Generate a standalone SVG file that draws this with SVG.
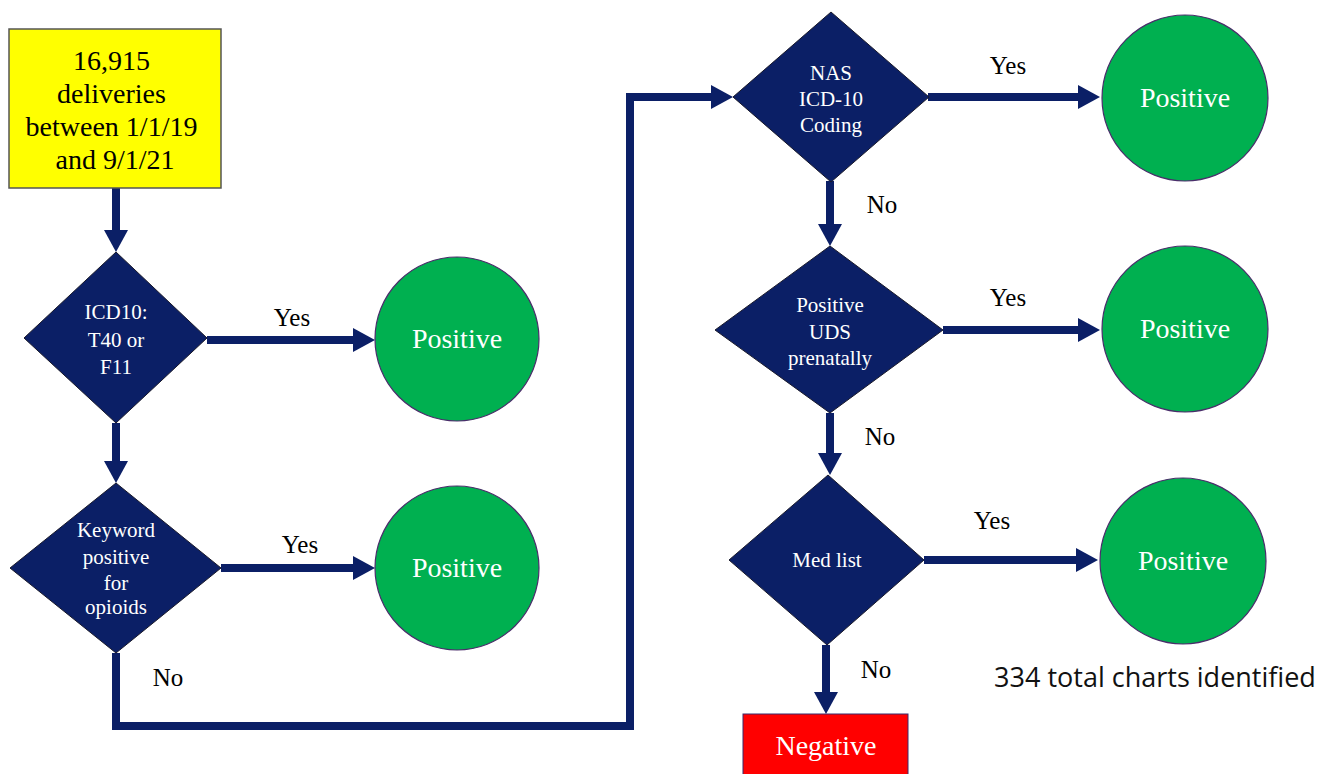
<svg xmlns="http://www.w3.org/2000/svg" width="1333" height="774" viewBox="0 0 1333 774">
<style>
.sf{font-family:"Liberation Serif","DejaVu Serif",serif}
.dia{fill:#0b1f66;stroke:#1a1a2a;stroke-width:1}
.dt{font-family:"Liberation Serif","DejaVu Serif",serif;font-size:21px;fill:#ffffff;text-anchor:middle}
.circ{fill:#00b050;stroke:#4b2d6b;stroke-width:1.2}
.ct{font-family:"Liberation Serif","DejaVu Serif",serif;font-size:28px;fill:#ffffff;text-anchor:middle}
.lbl{font-family:"Liberation Serif","DejaVu Serif",serif;font-size:25px;fill:#000000}
.conn{fill:none;stroke:#0b1f66;stroke-width:8}
</style>
<defs>
<marker id="ah" viewBox="0 0 22 24" refX="0" refY="12" markerWidth="22" markerHeight="24" markerUnits="userSpaceOnUse" orient="auto">
<path d="M0,0 L22,12 L0,24 Z" fill="#0b1f66"/>
</marker>
</defs>
<rect width="1333" height="774" fill="#ffffff"/>
<g id="connectors">
<path class="conn" d="M116,188 V230" marker-end="url(#ah)"/>
<path class="conn" d="M207,340 H353" marker-end="url(#ah)"/>
<path class="conn" d="M116,423 V461" marker-end="url(#ah)"/>
<path class="conn" d="M221,568 H353" marker-end="url(#ah)"/>
<path class="conn" d="M116,653 V726 H630 V97 H711" marker-end="url(#ah)"/>
<path class="conn" d="M928,97 H1078" marker-end="url(#ah)"/>
<path class="conn" d="M830,181 V224" marker-end="url(#ah)"/>
<path class="conn" d="M943,330 H1078" marker-end="url(#ah)"/>
<path class="conn" d="M830,413 V453" marker-end="url(#ah)"/>
<path class="conn" d="M924,560 H1076" marker-end="url(#ah)"/>
<path class="conn" d="M826,645 V692" marker-end="url(#ah)"/>
<text class="lbl" x="292" y="326" text-anchor="middle">Yes</text>
<text class="lbl" x="300" y="553" text-anchor="middle">Yes</text>
<text class="lbl" x="168" y="686" text-anchor="middle">No</text>
<text class="lbl" x="1008" y="74" text-anchor="middle">Yes</text>
<text class="lbl" x="882" y="213" text-anchor="middle">No</text>
<text class="lbl" x="1008" y="306" text-anchor="middle">Yes</text>
<text class="lbl" x="880" y="445" text-anchor="middle">No</text>
<text class="lbl" x="992" y="529" text-anchor="middle">Yes</text>
<text class="lbl" x="876" y="678" text-anchor="middle">No</text>
</g>
<g id="start">
<rect x="9" y="29" width="212" height="159" fill="#ffff00" stroke="#555555" stroke-width="1.5"/>
<text class="sf" font-size="28" fill="#000" text-anchor="middle">
<tspan x="115" y="70">16,915</tspan>
<tspan x="115" y="103">deliveries</tspan>
<tspan x="115" y="136">between 1/1/19</tspan>
<tspan x="115" y="169">and 9/1/21</tspan>
</text>
</g>
<g id="d_icd10">
<polygon class="dia" points="116,252 207,338 116,423 24,338"/>
<text class="dt"><tspan x="116" y="319">ICD10:</tspan><tspan x="116" y="347">T40 or</tspan><tspan x="116" y="374">F11</tspan></text>
</g>
<g id="d_keyword">
<polygon class="dia" points="116,483 221,568 116,653 10,568"/>
<text class="dt"><tspan x="116" y="537">Keyword</tspan><tspan x="116" y="564">positive</tspan><tspan x="116" y="590">for</tspan><tspan x="116" y="614">opioids</tspan></text>
</g>
<g id="pos1">
<circle class="circ" cx="457" cy="339" r="82"/>
<text class="ct" x="457" y="348">Positive</text>
</g>
<g id="pos2">
<circle class="circ" cx="457" cy="568" r="82"/>
<text class="ct" x="457" y="577">Positive</text>
</g>
<g id="d_nas">
<polygon class="dia" points="831,12 929,97 831,182 733,97"/>
<text class="dt"><tspan x="831" y="80">NAS</tspan><tspan x="831" y="106">ICD-10</tspan><tspan x="831" y="132">Coding</tspan></text>
</g>
<g id="d_uds">
<polygon class="dia" points="830,246 943,330 830,413 715,330"/>
<text class="dt"><tspan x="830" y="312">Positive</tspan><tspan x="830" y="339">UDS</tspan><tspan x="830" y="365">prenatally</tspan></text>
</g>
<g id="d_med">
<polygon class="dia" points="828,475 924,560 827,645 729,560"/>
<text class="dt" x="827" y="567">Med list</text>
</g>
<g id="pos3">
<circle class="circ" cx="1185" cy="98" r="83"/>
<text class="ct" x="1185" y="107">Positive</text>
</g>
<g id="pos4">
<circle class="circ" cx="1185" cy="329" r="83"/>
<text class="ct" x="1185" y="338">Positive</text>
</g>
<g id="pos5">
<circle class="circ" cx="1183" cy="561" r="83"/>
<text class="ct" x="1183" y="570">Positive</text>
</g>
<g id="negative">
<rect x="743" y="714" width="165" height="66" fill="#ff0000" stroke="#3a2a6a" stroke-width="1"/>
<text class="ct" x="826" y="755">Negative</text>
</g>
<g id="note">
<text x="1155" y="687" font-family="Open Sans, sans-serif" font-size="27" fill="#111" text-anchor="middle">334 total charts identified</text>
</g>
</svg>
